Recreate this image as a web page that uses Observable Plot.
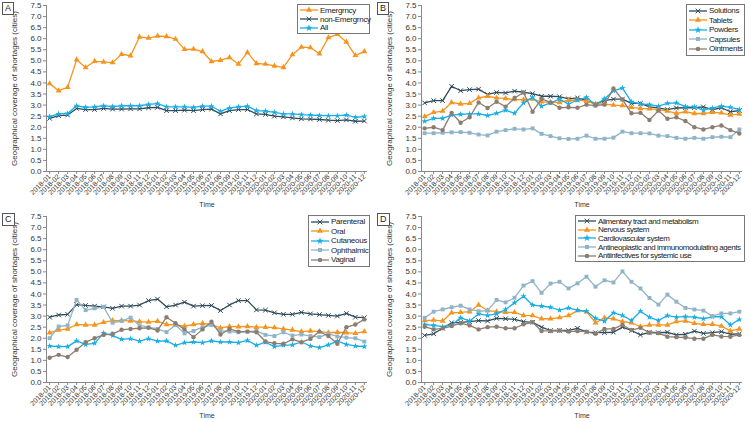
<!DOCTYPE html>
<html><head><meta charset="utf-8">
<script src="https://cdn.jsdelivr.net/npm/d3@7"></script>
<script src="https://cdn.jsdelivr.net/npm/@observablehq/plot@0.6"></script>
<style>
body{margin:0;background:#fff;font-family:"Liberation Sans",Arial,sans-serif;color:#222;}
#wrap{position:relative;width:750px;height:422px;overflow:hidden;}
.panel{position:absolute;width:375px;height:211px;}
.panel svg{position:absolute;left:0;top:0;}
.tag{position:absolute;left:2px;top:2px;border:1px solid #555;font-size:9px;line-height:11px;padding:0 2px;background:#fff;}
.legend{position:absolute;border:1px solid #777;background:#fff;font-size:8px;letter-spacing:-0.3px;box-sizing:border-box;padding:1px 2px;}
.legend.wide{letter-spacing:-0.45px;}
.legend .row{display:flex;align-items:center;white-space:nowrap;}
.legend svg{position:static;margin-right:2px;flex:none;}
</style></head>
<body><div id="wrap"></div>
<script>
const months = ["2018-01","2018-02","2018-03","2018-04","2018-05","2018-06","2018-07","2018-08","2018-09","2018-10","2018-11","2018-12",
"2019-01","2019-02","2019-03","2019-04","2019-05","2019-06","2019-07","2019-08","2019-09","2019-10","2019-11","2019-12",
"2020-01","2020-02","2020-03","2020-04","2020-05","2020-06","2020-07","2020-08","2020-09","2020-10","2020-11","2020-12"];
const yTicks = [0,0.5,1,1.5,2,2.5,3,3.5,4,4.5,5,5.5,6,6.5,7,7.5];

// Panel A
const emergency = [3.97,3.65,3.8,5.05,4.7,4.98,4.95,4.92,5.3,5.23,6.08,6.03,6.12,6.1,5.98,5.52,5.53,5.42,4.97,5.03,5.15,4.85,5.38,4.88,4.85,4.77,4.7,5.28,5.62,5.6,5.32,6.05,6.2,5.85,5.25,5.42];
const nonEmergency = [2.4,2.52,2.55,2.85,2.8,2.8,2.85,2.82,2.82,2.83,2.83,2.88,2.9,2.75,2.75,2.77,2.75,2.8,2.82,2.6,2.75,2.8,2.8,2.6,2.58,2.5,2.47,2.42,2.38,2.37,2.35,2.32,2.3,2.33,2.27,2.28];
const allDrugs = [2.48,2.6,2.62,2.97,2.9,2.92,2.97,2.93,2.97,2.97,2.97,3.03,3.07,2.92,2.92,2.92,2.9,2.95,2.95,2.72,2.87,2.92,2.95,2.75,2.73,2.67,2.6,2.6,2.57,2.55,2.53,2.52,2.52,2.55,2.45,2.48];
// Panel B
const solutions = [3.1,3.2,3.2,3.85,3.65,3.7,3.72,3.48,3.57,3.55,3.63,3.58,3.52,3.4,3.4,3.38,3.28,3.33,3.2,3.05,3.2,3.27,3.27,3.08,3.08,2.92,2.87,2.8,2.87,2.88,2.88,2.92,2.8,2.88,2.7,2.75];
const tablets = [2.48,2.67,2.73,3.12,3.05,3.08,3.33,3.4,3.33,3.3,3.25,3.25,3.27,3.15,3.12,3.12,3.22,3.23,3.18,3.05,3.05,3.0,2.98,2.9,2.85,2.83,2.8,2.73,2.63,2.7,2.62,2.62,2.67,2.65,2.55,2.6];
const powders = [2.27,2.4,2.4,2.55,2.58,2.6,2.6,2.53,2.63,2.77,2.63,3.1,3.35,2.95,3.1,3.27,3.05,3.23,3.35,3.0,3.28,3.65,3.77,3.15,3.05,3.02,2.95,3.08,3.1,2.93,2.92,2.77,2.87,2.95,2.9,2.8];
const capsules = [1.73,1.73,1.75,1.77,1.78,1.75,1.67,1.63,1.8,1.87,1.93,1.9,1.95,1.7,1.6,1.5,1.47,1.48,1.62,1.48,1.48,1.53,1.8,1.73,1.73,1.72,1.62,1.6,1.52,1.48,1.52,1.48,1.55,1.57,1.55,1.9];
const ointments = [1.95,2.0,1.87,2.65,2.2,2.45,3.12,2.87,3.15,2.93,3.32,3.57,2.7,3.28,3.12,2.88,2.9,2.88,3.02,2.98,3.02,3.75,3.25,2.63,2.65,2.33,2.75,2.38,2.45,2.28,2.0,1.9,2.0,2.08,1.87,1.72];
// Panel C
const parenteral = [2.95,3.05,3.08,3.52,3.48,3.45,3.42,3.35,3.45,3.45,3.5,3.7,3.77,3.42,3.5,3.63,3.45,3.47,3.48,3.25,3.5,3.7,3.7,3.28,3.27,3.15,3.08,3.08,3.17,3.1,3.07,3.03,3.0,3.12,2.95,2.93];
const oral = [2.25,2.37,2.42,2.62,2.6,2.6,2.72,2.8,2.8,2.78,2.75,2.73,2.77,2.62,2.6,2.55,2.62,2.67,2.62,2.47,2.53,2.52,2.53,2.5,2.5,2.48,2.42,2.37,2.3,2.33,2.3,2.25,2.27,2.25,2.22,2.3];
const cutaneous = [1.65,1.62,1.62,1.88,1.72,1.77,2.23,2.12,1.95,1.98,1.87,1.98,1.87,1.88,1.68,1.8,1.83,1.8,1.88,1.83,1.83,1.8,1.9,1.68,1.82,1.62,1.68,1.7,1.83,1.65,1.58,1.7,1.87,1.72,1.65,1.62];
const ophthalmic = [2.0,2.53,2.58,3.73,3.27,3.35,3.42,2.7,2.78,2.93,2.58,2.5,2.42,2.28,2.6,2.22,2.33,2.5,2.6,2.33,2.3,2.27,2.3,2.33,2.15,2.1,2.27,2.12,2.17,2.1,2.05,2.2,2.08,2.03,2.0,1.85];
const vaginal = [1.12,1.25,1.15,1.48,1.82,2.0,2.15,2.2,2.38,2.42,2.45,2.47,2.35,2.95,2.68,2.4,2.05,2.4,2.75,2.17,2.42,2.3,2.3,2.27,1.85,1.77,1.75,1.95,1.82,1.97,2.3,2.1,1.75,2.5,2.62,2.85];
// Panel D
const alimentary = [2.13,2.2,2.45,2.7,2.72,2.75,2.8,2.78,2.9,2.88,2.85,2.75,2.72,2.5,2.35,2.35,2.35,2.45,2.28,2.25,2.25,2.27,2.5,2.35,2.15,2.27,2.25,2.27,2.15,2.18,2.32,2.22,2.25,2.3,2.18,2.2];
const nervous = [2.8,2.82,2.78,3.15,3.17,3.2,3.5,3.25,3.2,3.17,3.17,3.03,3.02,2.88,2.88,2.93,3.02,3.25,3.2,2.7,2.92,2.88,2.75,2.7,2.52,2.6,2.6,2.6,2.75,2.78,2.67,2.63,2.63,2.55,2.33,2.42];
const cardiovascular = [2.62,2.58,2.52,2.6,2.92,2.78,3.1,3.03,3.1,3.3,3.6,3.9,3.5,3.45,3.4,3.27,3.37,3.27,3.22,2.9,2.77,3.15,3.03,2.8,3.22,2.95,2.8,3.02,2.95,2.98,2.95,2.88,2.97,2.97,2.6,2.85];
const antineoplastic = [2.92,3.2,3.3,3.4,3.47,3.3,3.22,3.25,3.73,3.62,3.83,4.38,4.58,4.05,4.47,4.55,4.25,4.48,4.78,4.33,4.62,4.52,5.02,4.55,4.25,3.82,3.52,3.97,3.65,3.37,3.3,3.25,3.0,3.12,3.12,3.2];
const antiinfectives = [2.52,2.4,2.45,2.55,2.68,2.58,2.4,2.5,2.52,2.45,2.45,2.63,2.72,2.33,2.33,2.35,2.3,2.32,2.3,2.2,2.42,2.42,2.6,2.37,2.47,2.25,2.23,2.07,2.05,2.03,1.98,1.98,2.15,2.08,2.07,2.15];

const C = {slate:"#2f4b5c", orange:"#f7941d", blue:"#19aee6", steel:"#8fb4c7", brown:"#8b7d72"};
const stroked = new Set(["times","asterisk","plus"]);

const panels = [
  {tag:"A", left:0, top:0, legend:{left:297, top:4, width:73, row:8.7}, series:[
    {name:"Emergrncy", values:emergency, color:C.orange, symbol:"triangle"},
    {name:"non-Emergrncy", values:nonEmergency, color:C.slate, symbol:"times"},
    {name:"All", values:allDrugs, color:C.blue, symbol:"star"}]},
  {tag:"B", left:375, top:0, legend:{left:311, top:4, width:59, row:9.5}, series:[
    {name:"Solutions", values:solutions, color:C.slate, symbol:"times"},
    {name:"Tablets", values:tablets, color:C.orange, symbol:"triangle"},
    {name:"Powders", values:powders, color:C.blue, symbol:"star"},
    {name:"Capsules", values:capsules, color:C.steel, symbol:"square"},
    {name:"Ointments", values:ointments, color:C.brown, symbol:"circle"}]},
  {tag:"C", left:0, top:211, legend:{left:308, top:4, width:62, row:9.5}, series:[
    {name:"Parenteral", values:parenteral, color:C.slate, symbol:"times"},
    {name:"Oral", values:oral, color:C.orange, symbol:"triangle"},
    {name:"Cutaneous", values:cutaneous, color:C.blue, symbol:"star"},
    {name:"Ophthalmic", values:ophthalmic, color:C.steel, symbol:"square"},
    {name:"Vaginal", values:vaginal, color:C.brown, symbol:"circle"}]},
  {tag:"D", left:375, top:211, wide:true, legend:{left:200, top:4, width:170, row:8.6}, series:[
    {name:"Alimentary tract and metabolism", values:alimentary, color:C.slate, symbol:"times"},
    {name:"Nervous system", values:nervous, color:C.orange, symbol:"triangle"},
    {name:"Cardiovascular system", values:cardiovascular, color:C.blue, symbol:"star"},
    {name:"Antineoplastic and immunomodulating agents", values:antineoplastic, color:C.steel, symbol:"square"},
    {name:"Antiinfectives for systemic use", values:antiinfectives, color:C.brown, symbol:"circle"}]}
];

const symMap = {triangle:d3.symbolTriangle, times:d3.symbolTimes, star:d3.symbolStar, square:d3.symbolSquare, circle:d3.symbolCircle};

const wrap = document.getElementById("wrap");
for (const p of panels) {
  const marks = [
    Plot.axisY({ticks: yTicks, tickFormat: d => d.toFixed(1), tickSize: 3, tickPadding: 2, stroke:"#888", color:"#333",
      label: "Geographical coverage of shortages (cities)", labelAnchor: "center", labelArrow: "none", labelOffset: 35}),
    Plot.axisX({tickRotate: -45, tickSize: 3, tickPadding: 1, stroke:"#888", color:"#333", fontSize: 7,
      label: "Time", labelAnchor: "center", labelArrow: "none", labelOffset: 35}),
    Plot.ruleY([0], {stroke: "#888"}),
    Plot.frame({anchor: "left", stroke: "#888"})
  ];
  for (const s of p.series) {
    const rows = s.values.map((v, i) => ({month: months[i], v}));
    marks.push(Plot.line(rows, {x: "month", y: "v", stroke: s.color, strokeWidth: 1.3}));
    const isStroke = stroked.has(s.symbol);
    marks.push(Plot.dot(rows, {x: "month", y: "v", symbol: s.symbol, r: s.symbol === "star" ? 2.0 : 2.2,
      fill: isStroke ? "none" : s.color, stroke: isStroke ? s.color : "none", strokeWidth: 1}));
  }
  const svg = Plot.plot({
    width: 375, height: 211,
    marginLeft: 46, marginRight: 8, marginTop: 5, marginBottom: 40,
    style: {fontSize: "8px", fontFamily: "Liberation Sans, Arial, sans-serif", background: "transparent", color: "#333"},
    x: {type: "point", domain: months, padding: 0.35},
    y: {domain: [0, 7.5]},
    marks
  });
  const div = document.createElement("div");
  div.className = "panel";
  div.style.left = p.left + "px"; div.style.top = p.top + "px";
  div.appendChild(svg);
  const tag = document.createElement("div");
  tag.className = "tag"; tag.textContent = p.tag;
  div.appendChild(tag);
  const lg = document.createElement("div");
  lg.className = "legend" + (p.wide ? " wide" : "");
  lg.style.left = p.legend.left + "px"; lg.style.top = p.legend.top + "px"; lg.style.width = p.legend.width + "px";
  for (const s of p.series) {
    const row = document.createElement("div");
    row.className = "row"; row.style.height = p.legend.row + "px";
    const sw = d3.create("svg").attr("width", 18).attr("height", 8);
    sw.append("line").attr("x1", 0).attr("x2", 18).attr("y1", 4).attr("y2", 4).attr("stroke", s.color).attr("stroke-width", 1.3);
    const isStroke = stroked.has(s.symbol);
    sw.append("path").attr("transform", "translate(9,4)").attr("d", d3.symbol(symMap[s.symbol], 16)())
      .attr("fill", isStroke ? "none" : s.color).attr("stroke", isStroke ? s.color : "none");
    row.appendChild(sw.node());
    const t = document.createElement("span"); t.textContent = s.name;
    row.appendChild(t);
    lg.appendChild(row);
  }
  div.appendChild(lg);
  wrap.appendChild(div);
}
</script></body></html>
